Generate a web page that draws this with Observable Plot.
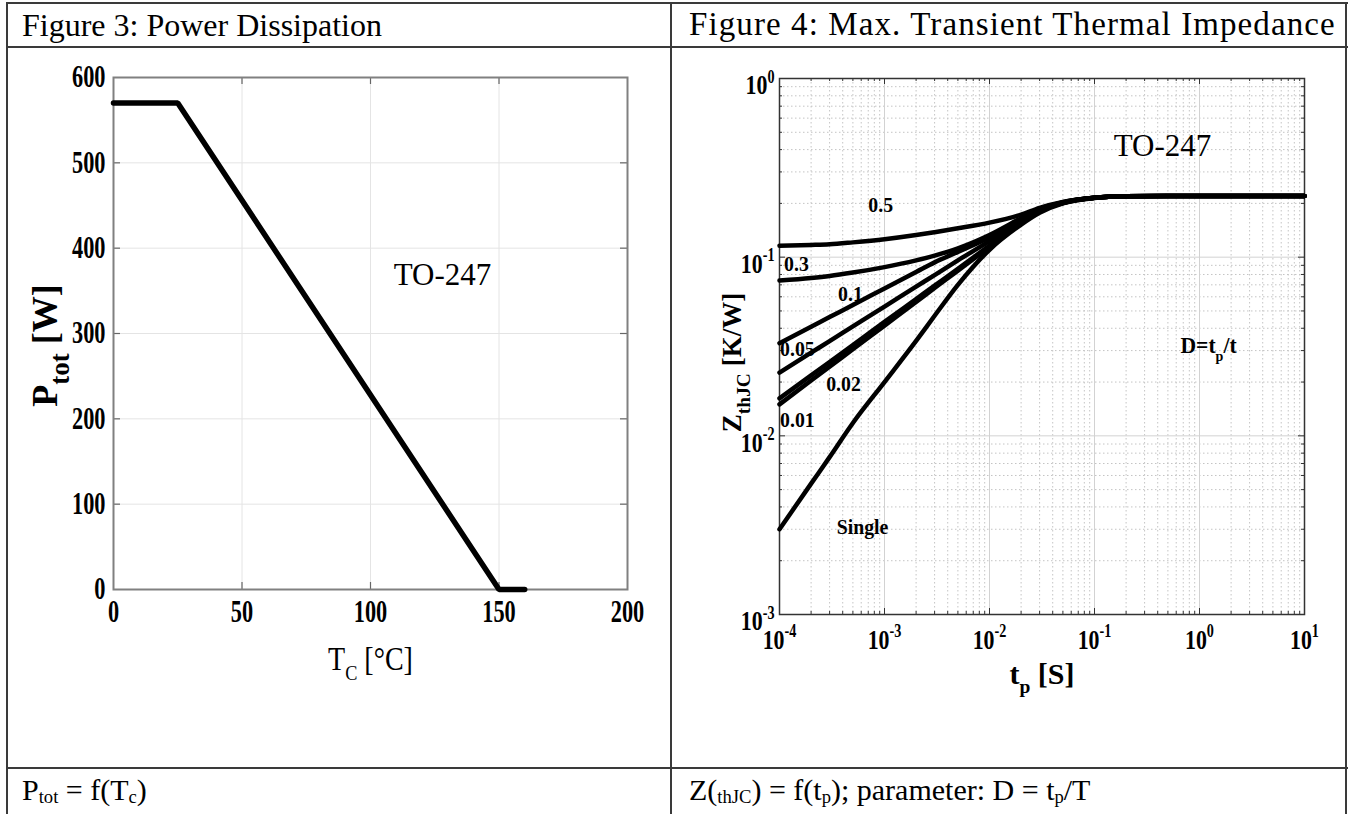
<!DOCTYPE html>
<html><head><meta charset="utf-8">
<script src="https://cdn.jsdelivr.net/npm/d3@7"></script>
<script src="https://cdn.jsdelivr.net/npm/@observablehq/plot@0.6"></script>
<style>
html,body{margin:0;padding:0;background:#fff;}
#page{position:relative;width:1352px;height:814px;overflow:hidden;background:#fff;font-family:"Liberation Serif","Times New Roman",serif;color:#000;}
.ln{position:absolute;background:#3a3a3a;}
.cell{position:absolute;white-space:nowrap;line-height:1;}
.cell sub{font-size:62%;vertical-align:-0.15em;line-height:0;}
.chart{position:absolute;}
</style></head><body>
<div id="page">
 <div class="ln" style="left:6px;top:2px;width:1342px;height:2px"></div>
 <div class="ln" style="left:6px;top:46px;width:1342px;height:2px"></div>
 <div class="ln" style="left:6px;top:767px;width:1342px;height:2px"></div>
 <div class="ln" style="left:6px;top:2px;width:2px;height:812px"></div>
 <div class="ln" style="left:670px;top:2px;width:2px;height:812px"></div>
 <div class="ln" style="left:1345px;top:2px;width:2px;height:812px"></div>
 <div class="cell" id="title1" style="left:22px;top:9px;font-size:32px"></div>
 <div class="cell" id="title2" style="left:689px;top:8px;font-size:33px;letter-spacing:1.1px"></div>
 <div class="cell" style="left:22px;top:775px;font-size:30px">P<sub>tot</sub> = f(T<sub>c</sub>)</div>
 <div class="cell" style="left:689px;top:775px;font-size:30px">Z(<sub>thJC</sub>) = f(t<sub>p</sub>); parameter: D = t<sub>p</sub>/T</div>
 <div class="chart" id="c1" style="left:8px;top:48px;width:664px;height:720px"></div>
 <div class="chart" id="c2" style="left:673px;top:48px;width:673px;height:720px"></div>
</div>
<script>
// ---------- data ----------
const titles = ["Figure 3: Power Dissipation", "Figure 4: Max. Transient Thermal Impedance"];

// Figure 3
const tcC   = [0, 25, 150, 160];
const ptotW = [570, 570, 0, 0];
const xTicksL = [0, 50, 100, 150, 200];
const yTicksL = [0, 100, 200, 300, 400, 500, 600];
const annotLText = ["TO-247"], annotLX = [128], annotLY = [368];

// Figure 4
const tp = [1e-4, 2e-4, 3e-4, 5e-4, 1e-3, 2e-3, 3e-3, 5e-3, 1e-2, 2e-2, 3e-2, 5e-2, 1e-1, 2e-1, 5e-1, 1, 10];
const zD05    = [0.116, 0.117, 0.118, 0.121, 0.126, 0.133, 0.138, 0.145, 0.156, 0.173, 0.189, 0.204, 0.215, 0.219, 0.22, 0.22, 0.22];
const zD03    = [0.074, 0.0765, 0.0785, 0.082, 0.088, 0.096, 0.102, 0.112, 0.133, 0.165, 0.185, 0.203, 0.215, 0.219, 0.22, 0.22, 0.22];
const zD01    = [0.033, 0.0408, 0.0462, 0.054, 0.0668, 0.0826, 0.0935, 0.107, 0.129, 0.161, 0.184, 0.202, 0.215, 0.219, 0.22, 0.22, 0.22];
const zD005   = [0.0226, 0.0292, 0.0339, 0.041, 0.0529, 0.0684, 0.0794, 0.096, 0.123, 0.159, 0.183, 0.202, 0.215, 0.219, 0.22, 0.22, 0.22];
const zD002   = [0.0162, 0.0218, 0.0259, 0.0322, 0.0434, 0.0583, 0.0693, 0.0861, 0.116, 0.157, 0.182, 0.201, 0.215, 0.219, 0.22, 0.22, 0.22];
const zD001   = [0.0150, 0.0204, 0.0244, 0.0305, 0.0414, 0.0561, 0.0673, 0.0841, 0.114, 0.156, 0.181, 0.201, 0.215, 0.219, 0.22, 0.22, 0.22];
const zSingle = [0.0030, 0.0054, 0.0076, 0.0118, 0.020, 0.034, 0.047, 0.070, 0.110, 0.152, 0.177, 0.200, 0.214, 0.219, 0.22, 0.22, 0.22];
const seriesNames = ["0.5", "0.3", "0.1", "0.05", "0.02", "0.01", "Single"];
const seriesZ = [zD05, zD03, zD01, zD005, zD002, zD001, zSingle];

const labelText = ["0.5", "0.3", "0.1", "0.05", "0.02", "0.01", "Single"];
const labelT = [9.2e-4, 1.45e-4, 4.74e-4, 1.48e-4, 4.07e-4, 1.48e-4, 6.17e-4];
const labelZ = [0.197, 0.092, 0.0626, 0.0308, 0.0196, 0.0122, 0.00311];
const annotRText = ["TO-247", "D=t_{p}/t"], annotRT = [0.444, 1.22], annotRZ = [0.416, 0.032];

const xTicksR = [1e-4, 1e-3, 1e-2, 1e-1, 1, 10];
const xTickLabelsR = ["10^{-4}", "10^{-3}", "10^{-2}", "10^{-1}", "10^{0}", "10^{1}"];
const yTicksR = [1e-3, 1e-2, 1e-1, 1];
const yTickLabelsR = ["10^{-3}", "10^{-2}", "10^{-1}", "10^{0}"];

// ---------- helpers ----------
const serif = "'Liberation Serif','Times New Roman',serif";
const SVGNS = "http://www.w3.org/2000/svg";
function richify(el, fs, subScale) {
  const s = el.textContent, parts = [], re = /([_^])\{([^}]*)\}/g;
  let last = 0, m;
  while ((m = re.exec(s))) {
    if (m.index > last) parts.push([s.slice(last, m.index), 0]);
    parts.push([m[2], m[1] === "_" ? 1 : -1]);
    last = re.lastIndex;
  }
  if (last < s.length) parts.push([s.slice(last), 0]);
  if (parts.every(p => p[1] === 0)) return;
  el.textContent = "";
  let cur = 0;
  for (const [t, mode] of parts) {
    const ts = document.createElementNS(SVGNS, "tspan");
    const target = mode === 1 ? 0.33 * fs : mode === -1 ? -0.42 * fs : 0;
    if (target !== cur) ts.setAttribute("dy", target - cur);
    cur = target;
    if (mode) ts.setAttribute("font-size", fs * subScale);
    ts.textContent = t;
    el.appendChild(ts);
  }
}
function post(svg) {
  d3.select(svg).selectAll("g[aria-description]").each(function () {
    const desc = this.getAttribute("aria-description") || "";
    const fs = parseFloat(this.getAttribute("font-size")) || 20;
    const m = desc.match(/cond([\d.]+)/);
    const sm = desc.match(/sub([\d.]+)/);
    d3.select(this).selectAll("text").each(function () {
      if (desc.includes("rich")) richify(this, fs, sm ? +sm[1] : 0.65);
      if (m) this.setAttribute("transform", (this.getAttribute("transform") || "") + ` scale(${m[1]},1)`);
    });
  });
}
const inner = a => a.slice(1, -1);

// ---------- Figure 3 ----------
{
  const W = 664, H = 720, ml = 105, mr = 45, mt = 29, mb = 179;
  const pw = W - ml - mr, ph = H - mt - mb;
  const tickStyle = {stroke: "#666", strokeWidth: 1.2};
  const chart = Plot.plot({
    width: W, height: H, marginLeft: ml, marginRight: mr, marginTop: mt, marginBottom: mb,
    x: {domain: [0, 200], axis: null},
    y: {domain: [0, 600], axis: null},
    marks: [
      Plot.ruleX(inner(xTicksL), {stroke: "#e4e4e4", strokeWidth: 1}),
      Plot.ruleY(inner(yTicksL), {stroke: "#e4e4e4", strokeWidth: 1}),
      Plot.ruleX(inner(xTicksL), {...tickStyle, insetTop: ph - 7}),
      Plot.ruleX(inner(xTicksL), {...tickStyle, insetBottom: ph - 7}),
      Plot.ruleY(inner(yTicksL), {...tickStyle, insetRight: pw - 7}),
      Plot.ruleY(inner(yTicksL), {...tickStyle, insetLeft: pw - 7}),
      Plot.frame({stroke: "#808080", strokeWidth: 2}),
      Plot.line(tcC.map((t, i) => ({t, p: ptotW[i]})), {x: "t", y: "p", stroke: "#000", strokeWidth: 5.5, strokeLinejoin: "miter"}),
      Plot.text(xTicksL, {x: d => d, text: d => String(d), frameAnchor: "bottom", dy: 32, fontSize: 31, fontWeight: "bold", fontFamily: serif, ariaDescription: "cond0.72"}),
      Plot.text(yTicksL, {y: d => d, text: d => String(d), frameAnchor: "left", dx: -8, textAnchor: "end", fontSize: 31, fontWeight: "bold", fontFamily: serif, ariaDescription: "cond0.72"}),
      Plot.text(["P_{tot} [W]"], {text: d => d, frameAnchor: "left", dx: -68, dy: 12, rotate: -90, textAnchor: "middle", fontSize: 36, fontWeight: "bold", fontFamily: serif, ariaDescription: "rich sub0.75"}),
      Plot.text(["T_{C} [°C]"], {text: d => d, frameAnchor: "bottom", dy: 80, textAnchor: "middle", fontSize: 33, fontFamily: serif, ariaDescription: "rich cond0.85"}),
      Plot.text(annotLText, {x: (d, i) => annotLX[i], y: (d, i) => annotLY[i], text: d => d, fontSize: 31, fontFamily: serif})
    ]
  });
  document.getElementById("c1").appendChild(chart);
  post(chart);
}

// ---------- Figure 4 ----------
{
  const W = 673, H = 720, ml = 106, mr = 42, mt = 30, mb = 154;
  const pw = W - ml - mr, ph = H - mt - mb;
  const allX = d3.scaleLog().domain([1e-4, 10]).ticks();
  const allY = d3.scaleLog().domain([1e-3, 1]).ticks();
  const isMajor = (v, arr) => arr.some(t => Math.abs(v / t - 1) < 1e-6);
  const minorX = allX.filter(v => !isMajor(v, xTicksR));
  const minorY = allY.filter(v => !isMajor(v, yTicksR));
  const rows = seriesNames.flatMap((D, k) => tp.map((t, i) => ({D, t, z: seriesZ[k][i]})));
  const tk = {stroke: "#333", strokeWidth: 1};
  const minorGrid = {stroke: "#c4c4c4", strokeWidth: 1, strokeDasharray: "1.5,2.5"};
  const chart = Plot.plot({
    width: W, height: H, marginLeft: ml, marginRight: mr, marginTop: mt, marginBottom: mb,
    x: {type: "log", domain: [1e-4, 10], axis: null},
    y: {type: "log", domain: [1e-3, 1], axis: null},
    marks: [
      Plot.ruleX(minorX, minorGrid),
      Plot.ruleY(minorY, minorGrid),
      Plot.ruleX(inner(xTicksR), {stroke: "#d2d2d2", strokeWidth: 1}),
      Plot.ruleY(inner(yTicksR), {stroke: "#d2d2d2", strokeWidth: 1}),
      Plot.ruleX(xTicksR, {...tk, insetTop: ph - 6}),
      Plot.ruleX(xTicksR, {...tk, insetBottom: ph - 6}),
      Plot.ruleX(minorX, {...tk, insetTop: ph - 3}),
      Plot.ruleX(minorX, {...tk, insetBottom: ph - 3}),
      Plot.ruleY(yTicksR, {...tk, insetRight: pw - 6}),
      Plot.ruleY(yTicksR, {...tk, insetLeft: pw - 6}),
      Plot.ruleY(minorY, {...tk, insetRight: pw - 3}),
      Plot.ruleY(minorY, {...tk, insetLeft: pw - 3}),
      Plot.frame({stroke: "#333", strokeWidth: 1.5}),
      Plot.line(rows, {x: "t", y: "z", z: "D", stroke: "#000", strokeWidth: 4.5, curve: "monotone-x"}),
      Plot.text(labelText, {x: (d, i) => labelT[i], y: (d, i) => labelZ[i], text: d => d, fontSize: 22, fontWeight: "bold", fontFamily: serif, ariaDescription: "cond0.9"}),
      Plot.text(annotRText.slice(0, 1), {x: (d, i) => annotRT[i], y: (d, i) => annotRZ[i], text: d => d, fontSize: 31, fontFamily: serif}),
      Plot.text(annotRText.slice(1), {x: (d, i) => annotRT[i + 1], y: (d, i) => annotRZ[i + 1], text: d => d, fontSize: 24, fontWeight: "bold", fontFamily: serif, ariaDescription: "rich cond0.9"}),
      Plot.text(xTicksR, {x: d => d, text: (d, i) => xTickLabelsR[i], frameAnchor: "bottom", dy: 34, textAnchor: "middle", fontSize: 28, fontWeight: "bold", fontFamily: serif, ariaDescription: "rich cond0.78"}),
      Plot.text(yTicksR, {y: d => d, text: (d, i) => yTickLabelsR[i], frameAnchor: "left", dx: -5, dy: 7, textAnchor: "end", fontSize: 28, fontWeight: "bold", fontFamily: serif, ariaDescription: "rich cond0.78"}),
      Plot.text(["Z_{thJC} [K/W]"], {text: d => d, frameAnchor: "left", dx: -47, dy: 16, rotate: -90, textAnchor: "middle", fontSize: 27, fontWeight: "bold", fontFamily: serif, ariaDescription: "rich sub0.72"}),
      Plot.text(["t_{p} [S]"], {text: d => d, frameAnchor: "bottom", dy: 69, textAnchor: "middle", fontSize: 30, fontWeight: "bold", fontFamily: serif, ariaDescription: "rich"})
    ]
  });
  document.getElementById("c2").appendChild(chart);
  post(chart);
}
document.getElementById("title1").textContent = titles[0];
document.getElementById("title2").textContent = titles[1];
</script>
</body></html>
